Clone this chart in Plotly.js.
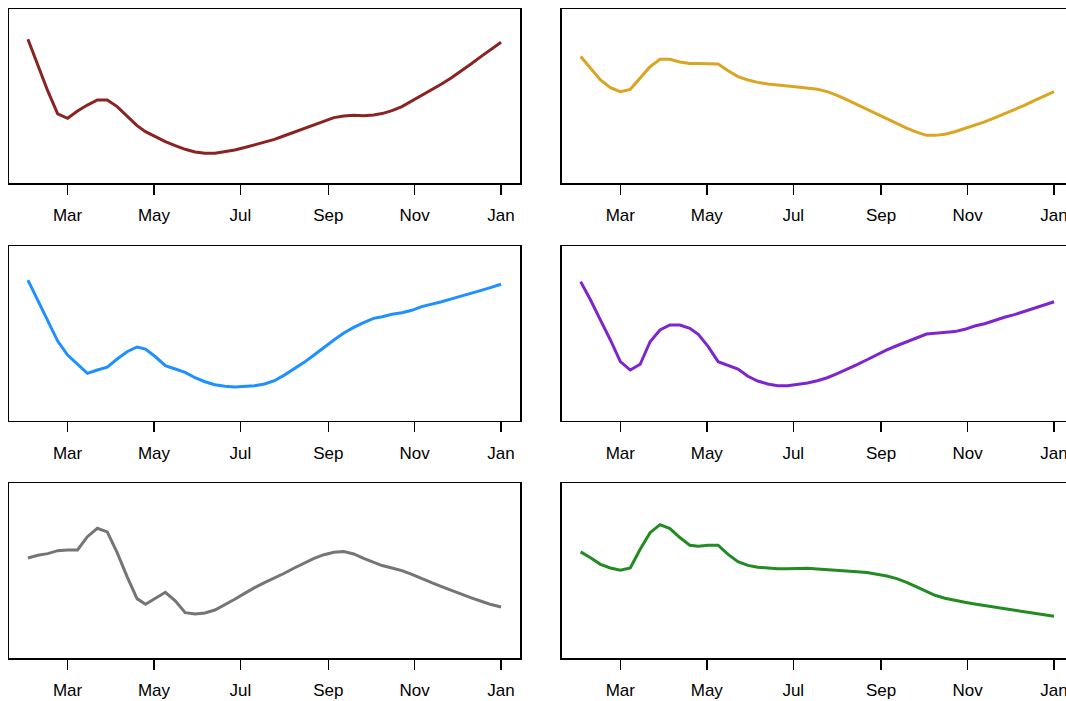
<!DOCTYPE html>
<html>
<head>
<meta charset="utf-8">
<script src="https://cdn.plot.ly/plotly-3.0.1.min.js"></script>
<style>
html, body { margin: 0; padding: 0; background: #ffffff; overflow: hidden; width: 1066px; height: 701px; }
#chart { width: 1080px; height: 701px; }
</style>
</head>
<body>
<div id="chart"></div>
<script>
// Observation dates (roughly weekly, 1 Feb to 1 Jan)
const dates = [
  "2021-02-01","2021-02-08","2021-02-15","2021-02-22","2021-03-01","2021-03-08","2021-03-15",
  "2021-03-22","2021-03-29","2021-04-05","2021-04-12","2021-04-19","2021-04-25","2021-05-02",
  "2021-05-09","2021-05-16","2021-05-23","2021-05-30","2021-06-06","2021-06-13","2021-06-20",
  "2021-06-27","2021-07-04","2021-07-11","2021-07-18","2021-07-25","2021-08-01","2021-08-08",
  "2021-08-15","2021-08-22","2021-08-29","2021-09-05","2021-09-12","2021-09-19","2021-09-26",
  "2021-10-03","2021-10-09","2021-10-16","2021-10-23","2021-10-30","2021-11-06","2021-11-13",
  "2021-11-20","2021-11-27","2021-12-04","2021-12-11","2021-12-18","2021-12-25","2022-01-01"
];

// Tick positions and labels
const tickDates = ["2021-03-01","2021-05-01","2021-07-01","2021-09-01","2021-11-01","2022-01-01"];
const tickLabels = ["Mar","May","Jul","Sep","Nov","Jan"];

// Series values (relative index)
const seriesRed = [82.6,67.9,53.0,39.8,37.3,41.5,44.9,47.8,47.8,44.0,38.6,33.1,29.6,26.8,23.9,21.6,19.5,18.0,17.2,17.2,18.0,19.1,20.5,22.0,23.5,25.2,27.3,29.4,31.7,33.8,35.9,37.7,38.6,39.0,38.8,39.2,40.0,41.7,44.0,47.2,50.3,53.5,57.0,60.6,64.4,68.6,72.8,76.9,80.9];
const seriesGold = [72.7,66.0,59.3,54.9,52.6,53.9,60.2,66.9,71.1,71.1,69.6,68.8,68.8,68.8,68.5,64.6,61.2,59.3,57.9,57.0,56.2,55.8,55.3,54.7,53.9,52.6,50.5,47.8,45.1,42.3,39.4,36.7,34.0,31.7,29.4,27.5,27.5,28.1,29.6,31.4,33.3,35.2,37.5,39.8,42.3,44.7,47.4,49.9,52.6];
const seriesBlue = [80.5,69.1,57.1,45.6,37.6,32.3,27.1,29.0,30.7,35.3,39.5,42.2,41.0,36.6,31.5,29.6,27.7,24.6,22.3,20.6,19.7,19.3,19.5,20.0,21.0,22.9,26.1,29.6,33.4,37.6,42.0,46.2,50.2,53.4,56.1,58.6,59.5,60.9,61.8,63.2,65.3,66.6,68.1,69.7,71.2,72.9,74.6,76.3,78.1];
const seriesPurple = [79.6,69.1,57.6,46.2,33.8,29.0,32.3,45.2,51.9,54.8,54.8,52.9,49.4,42.4,33.8,31.5,29.6,25.4,22.7,21.0,20.0,20.0,20.6,21.6,22.9,24.6,26.9,29.4,32.1,34.9,37.8,40.5,42.9,45.2,47.5,49.6,50.0,50.6,51.0,52.3,54.2,55.5,57.4,59.2,60.7,62.4,64.3,66.2,68.1];
const seriesGrey = [57.3,58.9,59.8,61.5,61.9,61.9,69.5,74.3,72.2,60.4,46.7,34.1,30.9,34.3,37.7,32.8,26.1,25.3,25.9,27.6,30.5,33.7,37.1,40.4,43.2,45.7,48.6,51.6,54.5,57.1,59.2,60.6,61.0,59.6,57.1,54.7,53.0,51.6,50.1,48.0,45.5,43.2,41.0,38.7,36.6,34.5,32.6,30.7,29.3];
const seriesGreen = [60.8,57.5,53.7,51.6,50.3,51.6,62.3,71.8,76.4,74.1,69.0,64.6,64.0,64.6,64.6,59.4,55.2,53.1,52.0,51.4,51.2,51.2,51.4,51.4,51.0,50.7,50.3,49.9,49.5,49.0,48.2,47.0,45.5,43.4,40.8,38.1,36.0,34.3,33.0,32.0,31.0,30.1,29.1,28.4,27.4,26.5,25.5,24.8,24.0];

const panels = [
  {y: seriesRed,    color: "#8B2323"},
  {y: seriesGold,   color: "#DAA520"},
  {y: seriesBlue,   color: "#1E90FF"},
  {y: seriesPurple, color: "#7D26CD"},
  {y: seriesGrey,   color: "#757575"},
  {y: seriesGreen,  color: "#228B22"}
];

const W = 1080, H = 701;
const colX = [[9, 520], [561.7, 1073]];
const rowY = [[9, 183.3], [246, 420.7], [483.3, 658.3]];
const xRange = ["2021-01-18 15:21", "2022-01-14 08:38"];

const traces = [];
const layout = {
  width: W, height: H,
  margin: {l: 0, r: 0, t: 0, b: 0},
  paper_bgcolor: "#ffffff",
  plot_bgcolor: "#ffffff",
  showlegend: false,
  font: {family: "Liberation Sans, Arial, sans-serif", size: 17, color: "#000000"}
};

panels.forEach((p, k) => {
  const r = Math.floor(k / 2), c = k % 2;
  const n = k + 1;
  const xa = n === 1 ? "x" : "x" + n;
  const ya = n === 1 ? "y" : "y" + n;
  traces.push({
    type: "scatter", mode: "lines",
    x: dates, y: p.y,
    xaxis: xa, yaxis: ya,
    line: {color: p.color, width: 3},
    hoverinfo: "skip"
  });
  const xkey = n === 1 ? "xaxis" : "xaxis" + n;
  const ykey = n === 1 ? "yaxis" : "yaxis" + n;
  layout[xkey] = {
    domain: [colX[c][0] / W, colX[c][1] / W],
    anchor: ya,
    type: "date",
    range: xRange,
    tickmode: "array",
    tickvals: tickDates,
    ticktext: tickLabels,
    ticks: "outside",
    ticklen: 10,
    tickwidth: 1.5,
    tickcolor: "#000000",
    showline: true, mirror: true,
    linecolor: "#000000", linewidth: 1.5,
    showgrid: false, zeroline: false,
    tickfont: {family: "Liberation Sans, Arial, sans-serif", size: 17, color: "#000000"},
    ticklabelstandoff: 6,
    fixedrange: true
  };
  layout[ykey] = {
    domain: [(H - rowY[r][1]) / H, (H - rowY[r][0]) / H],
    anchor: xa,
    range: [0, 100],
    showticklabels: false,
    ticks: "",
    showline: true, mirror: true,
    linecolor: "#000000", linewidth: 1.5,
    showgrid: false, zeroline: false,
    fixedrange: true
  };
});

Plotly.newPlot("chart", traces, layout, {staticPlot: true, displayModeBar: false});
</script>
</body>
</html>
